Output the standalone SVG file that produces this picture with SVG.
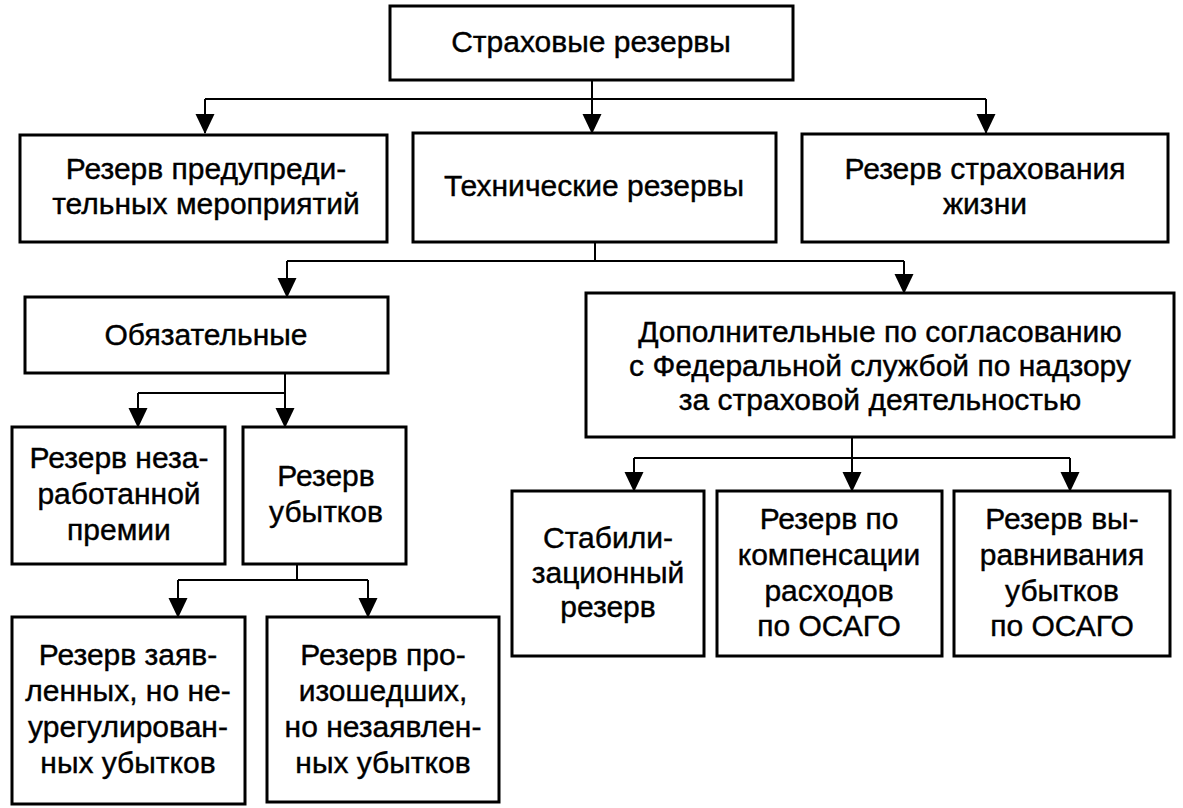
<svg xmlns="http://www.w3.org/2000/svg" width="1183" height="808" viewBox="0 0 1183 808">
<style>
.box{fill:#fff;stroke:#000;stroke-width:3}
.t{font-family:"Liberation Sans",Arial,sans-serif;font-size:30px;fill:#000;stroke:#000;stroke-width:0.4;text-anchor:middle}
.c{fill:none;stroke:#000;stroke-width:2}
</style>
<defs>
<marker id="ah" markerUnits="userSpaceOnUse" markerWidth="20" markerHeight="20" refX="19" refY="9.5" orient="auto" viewBox="0 0 20 19">
<path d="M0,0 L20,9.5 L0,19 z" fill="#000"/>
</marker>
</defs>
<rect width="1183" height="808" fill="#fff"/>
<g id="connectors">
<path class="c" d="M592,80 V133" marker-end="url(#ah)"/>
<path class="c" d="M205,99 H986"/>
<path class="c" d="M205,99 V133" marker-end="url(#ah)"/>
<path class="c" d="M986,99 V133" marker-end="url(#ah)"/>
<path class="c" d="M595,242 V261"/>
<path class="c" d="M287,261 H904"/>
<path class="c" d="M287,261 V297" marker-end="url(#ah)"/>
<path class="c" d="M904,261 V293" marker-end="url(#ah)"/>
<path class="c" d="M285,374 V427" marker-end="url(#ah)"/>
<path class="c" d="M138,393 H285"/>
<path class="c" d="M138,393 V427" marker-end="url(#ah)"/>
<path class="c" d="M297,564 V580"/>
<path class="c" d="M178,580 H368"/>
<path class="c" d="M178,580 V617" marker-end="url(#ah)"/>
<path class="c" d="M368,580 V617" marker-end="url(#ah)"/>
<path class="c" d="M852,437 V491" marker-end="url(#ah)"/>
<path class="c" d="M634,458 H1070"/>
<path class="c" d="M634,458 V491" marker-end="url(#ah)"/>
<path class="c" d="M1070,458 V491" marker-end="url(#ah)"/>
</g>
<g id="n-root">
<rect class="box" x="390" y="6" width="403" height="74"/>
<text class="t" x="591" y="52">Страховые резервы</text>
</g>
<g id="n-prev">
<rect class="box" x="20" y="135" width="367" height="107"/>
<text class="t" x="206" y="179">Резерв предупреди-</text>
<text class="t" x="206" y="214">тельных мероприятий</text>
</g>
<g id="n-tech">
<rect class="box" x="413" y="133" width="363" height="109"/>
<text class="t" x="594" y="196">Технические резервы</text>
</g>
<g id="n-life">
<rect class="box" x="802" y="134" width="366" height="108"/>
<text class="t" x="985" y="179">Резерв страхования</text>
<text class="t" x="985" y="214">жизни</text>
</g>
<g id="n-oblig">
<rect class="box" x="25" y="297" width="363" height="76"/>
<text class="t" x="206" y="345">Обязательные</text>
</g>
<g id="n-dop">
<rect class="box" x="586" y="293" width="588" height="144"/>
<text class="t" x="880" y="342">Дополнительные по согласованию</text>
<text class="t" x="880" y="376">с Федеральной службой по надзору</text>
<text class="t" x="880" y="410">за страховой деятельностью</text>
</g>
<g id="n-unearned">
<rect class="box" x="12" y="427" width="213" height="137"/>
<text class="t" x="119" y="468">Резерв неза-</text>
<text class="t" x="119" y="504">работанной</text>
<text class="t" x="119" y="540">премии</text>
</g>
<g id="n-losses">
<rect class="box" x="243" y="427" width="163" height="137"/>
<text class="t" x="326" y="486">Резерв</text>
<text class="t" x="326" y="522">убытков</text>
</g>
<g id="n-rzu">
<rect class="box" x="12" y="617" width="233" height="187"/>
<text class="t" x="128" y="665">Резерв заяв-</text>
<text class="t" x="128" y="701">ленных, но не-</text>
<text class="t" x="128" y="737">урегулирован-</text>
<text class="t" x="128" y="773">ных убытков</text>
</g>
<g id="n-rpnu">
<rect class="box" x="267" y="617" width="232" height="185"/>
<text class="t" x="383" y="665">Резерв про-</text>
<text class="t" x="383" y="701">изошедших,</text>
<text class="t" x="383" y="737">но незаявлен-</text>
<text class="t" x="383" y="773">ных убытков</text>
</g>
<g id="n-stab">
<rect class="box" x="512" y="491" width="192" height="165"/>
<text class="t" x="608" y="548">Стабили-</text>
<text class="t" x="608" y="583">зационный</text>
<text class="t" x="608" y="617">резерв</text>
</g>
<g id="n-komp">
<rect class="box" x="717" y="491" width="225" height="165"/>
<text class="t" x="829" y="529">Резерв по</text>
<text class="t" x="829" y="565">компенсации</text>
<text class="t" x="829" y="601">расходов</text>
<text class="t" x="829" y="636">по ОСАГО</text>
</g>
<g id="n-vyr">
<rect class="box" x="954" y="491" width="216" height="165"/>
<text class="t" x="1062" y="529">Резерв вы-</text>
<text class="t" x="1062" y="565">равнивания</text>
<text class="t" x="1062" y="601">убытков</text>
<text class="t" x="1062" y="636">по ОСАГО</text>
</g>
</svg>
